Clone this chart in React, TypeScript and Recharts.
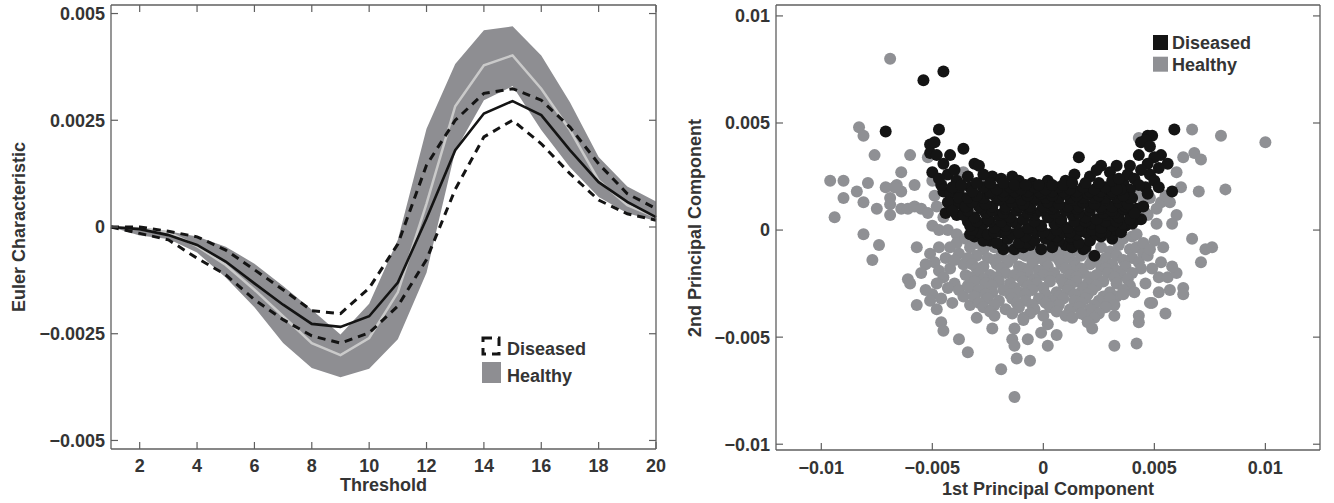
import React from 'react';
import { ComposedChart, ScatterChart, Scatter, Line, Area, XAxis, YAxis, Legend } from 'recharts';

// ---------- Left chart data ----------
const thresholds = [1, 2, 3, 4, 5, 6, 7, 8, 9, 10, 11, 12, 13, 14, 15, 16, 17, 18, 19, 20];
const healthyUpper = [0, 0, -0.0001, -0.00022, -0.00046, -0.00086, -0.00138, -0.00194, -0.00252, -0.0018, -0.0003, 0.0023, 0.00382, 0.00461, 0.0047, 0.00402, 0.00292, 0.00164, 0.00095, 0.0006];
const healthyLower = [0, -0.0002, -0.00028, -0.0006, -0.00118, -0.00188, -0.00272, -0.0033, -0.00352, -0.00332, -0.00263, -0.00107, 0.00178, 0.00297, 0.0033, 0.00227, 0.0014, 0.0007, 0.00032, 0.00014];
const healthyMean = [0, -0.00003, -0.00012, -0.00045, -0.00089, -0.00147, -0.00209, -0.00272, -0.003, -0.0026, -0.00153, 0.00055, 0.00283, 0.00379, 0.00402, 0.00324, 0.00227, 0.00109, 0.00051, 0.00023];
const diseasedMean = [0, -0.00005, -0.00019, -0.00042, -0.00081, -0.00132, -0.00182, -0.00227, -0.00234, -0.00209, -0.0013, 0.0002, 0.0018, 0.00266, 0.00295, 0.00262, 0.0018, 0.00105, 0.00059, 0.00023];
const diseasedUpper = [0, 0, -0.0001, -0.00023, -0.00054, -0.001, -0.00147, -0.00196, -0.00203, -0.00143, -0.0004, 0.00145, 0.0025, 0.00313, 0.00324, 0.00297, 0.00234, 0.00148, 0.00078, 0.00043];
const diseasedLower = [0, -0.00015, -0.0003, -0.00073, -0.00112, -0.0017, -0.00217, -0.00255, -0.00272, -0.00248, -0.00185, -0.00076, 0.00088, 0.00211, 0.0025, 0.00195, 0.00125, 0.00063, 0.00031, 0.00016];
const thresholdTicks = [2, 4, 6, 8, 10, 12, 14, 16, 18, 20];
const eulerTicks = [-0.005, -0.0025, 0, 0.0025, 0.005];

// ---------- Right chart data ----------
const pcTicks = [-0.01, -0.005, 0, 0.005, 0.01];

const healthyPoints: [number, number][] = [
  [-0.0069, 0.0080], [-0.0083, 0.0048], [-0.0081, 0.0044], [-0.0076, 0.0035], [-0.0060, 0.0035], [-0.0052, 0.0034],
  [-0.0096, 0.0023], [-0.0090, 0.0023], [-0.0084, 0.0018], [-0.0090, 0.0015], [-0.0079, 0.0022], [-0.0081, 0.0013],
  [-0.0075, 0.0010], [-0.0094, 0.0006], [-0.0081, -0.0002], [-0.0074, -0.0007], [-0.0077, -0.0014], [-0.0071, 0.0020],
  [-0.0069, 0.0015], [-0.0069, 0.0012], [-0.0064, 0.0027], [-0.0066, 0.0021], [-0.0064, 0.0018], [-0.0067, 0.0020],
  [-0.0058, 0.0021], [-0.0069, 0.0007], [-0.0064, 0.0010], [-0.0061, 0.0010], [-0.0058, 0.0011], [-0.0055, 0.0010],
  [-0.0052, 0.0008], [-0.0050, 0.0023], [-0.0057, -0.0008], [-0.0050, 0.0002], [-0.0047, 0.0000], [-0.0043, 0.0000],
  [-0.0039, -0.0002], [-0.0045, 0.0006], [-0.0048, 0.0011], [-0.0036, 0.0027], [-0.0049, 0.0016], [-0.0046, 0.0022],
  [-0.0028, 0.0022],
  [-0.0051, -0.0011], [-0.0049, -0.0015], [-0.0053, -0.0016], [-0.0047, -0.0019], [-0.0044, -0.0013], [-0.0045, -0.0022],
  [-0.0042, -0.0018], [-0.0040, -0.0025], [-0.0043, -0.0027], [-0.0038, -0.0028], [-0.0038, -0.0011], [-0.0036, -0.0016],
  [-0.0035, -0.0021], [-0.0039, -0.0006], [-0.0061, -0.0023], [-0.0060, -0.0025], [-0.0050, -0.0030], [-0.0057, -0.0035],
  [-0.0048, -0.0037], [-0.0046, -0.0043], [-0.0045, -0.0047], [-0.0038, -0.0051], [-0.0034, -0.0057], [-0.0036, -0.0031],
  [-0.0034, -0.0026], [-0.0053, -0.0028], [-0.0051, -0.0033], [-0.0035, -0.0004],
  [-0.0048, -0.0025], [-0.0046, -0.0032], [-0.0041, -0.0034], [-0.0042, -0.0008], [-0.0047, -0.0008], [-0.0055, -0.0020],
  [-0.0040, -0.0014], [-0.0033, -0.0035],
  [-0.0033, -0.0008], [-0.0027, -0.0009], [-0.0022, -0.0008], [-0.0005, -0.0010], [0.0006, -0.0009], [0.0013, -0.0010],
  [0.0026, -0.0008], [0.0034, -0.0007], [0.0039, -0.0009], [0.0036, -0.0004], [0.0040, -0.0003],
  [-0.0030, -0.0006], [-0.0015, -0.0008], [-0.0010, -0.0011], [0.0001, -0.0010], [0.0009, -0.0010], [0.0019, -0.0010],
  [0.0022, -0.0014], [0.0030, -0.0010], [0.0042, -0.0008],
  [-0.0030, -0.0012], [-0.0025, -0.0013], [-0.0019, -0.0012], [-0.0014, -0.0013], [-0.0008, -0.0012], [-0.0002, -0.0013],
  [0.0004, -0.0012], [0.0011, -0.0013], [0.0017, -0.0012], [0.0028, -0.0013], [0.0033, -0.0012], [0.0040, -0.0013],
  [0.0045, -0.0011],
  [-0.0034, -0.0013], [-0.0022, -0.0014], [-0.0016, -0.0015], [-0.0005, -0.0014], [0.0001, -0.0015], [0.0007, -0.0014],
  [0.0014, -0.0015], [0.0024, -0.0014], [0.0036, -0.0014], [0.0043, -0.0015],
  [-0.0032, -0.0016], [-0.0027, -0.0017], [-0.0021, -0.0016], [-0.0011, -0.0017], [-0.0005, -0.0016], [0.0002, -0.0017],
  [0.0008, -0.0016], [0.0014, -0.0017], [0.0021, -0.0016], [0.0026, -0.0017], [0.0031, -0.0016], [0.0037, -0.0017],
  [-0.0030, -0.0018], [-0.0019, -0.0018], [-0.0009, -0.0018], [-0.0002, -0.0019], [0.0010, -0.0018], [0.0017, -0.0018],
  [0.0028, -0.0018], [0.0033, -0.0019], [0.0044, -0.0018],
  [-0.0029, -0.0020], [-0.0024, -0.0021], [-0.0017, -0.0020], [-0.0013, -0.0021], [-0.0007, -0.0020], [0.0000, -0.0021],
  [0.0005, -0.0020], [0.0012, -0.0021], [0.0018, -0.0020], [0.0024, -0.0021], [0.0029, -0.0020], [0.0035, -0.0021],
  [0.0040, -0.0020],
  [-0.0033, -0.0022], [-0.0027, -0.0023], [-0.0021, -0.0022], [-0.0010, -0.0022], [-0.0004, -0.0023], [0.0003, -0.0022],
  [0.0008, -0.0023], [0.0015, -0.0022], [0.0021, -0.0022], [0.0032, -0.0022], [0.0038, -0.0023],
  [-0.0031, -0.0024], [-0.0026, -0.0025], [-0.0020, -0.0024], [-0.0015, -0.0025], [-0.0009, -0.0024], [-0.0003, -0.0025],
  [0.0003, -0.0024], [0.0009, -0.0025], [0.0015, -0.0024], [0.0020, -0.0025], [0.0027, -0.0024], [0.0033, -0.0025],
  [-0.0033, -0.0027], [-0.0023, -0.0026], [-0.0013, -0.0027], [-0.0007, -0.0026], [0.0000, -0.0027], [0.0012, -0.0026],
  [0.0018, -0.0027], [0.0024, -0.0026], [0.0039, -0.0026],
  [-0.0029, -0.0028], [-0.0023, -0.0029], [-0.0018, -0.0028], [-0.0011, -0.0029], [-0.0005, -0.0028], [0.0006, -0.0029],
  [0.0011, -0.0028], [0.0017, -0.0029], [0.0022, -0.0028], [0.0030, -0.0029], [0.0036, -0.0028], [0.0041, -0.0029],
  [-0.0031, -0.0031], [-0.0026, -0.0030], [-0.0015, -0.0030], [-0.0008, -0.0030], [0.0001, -0.0030], [0.0007, -0.0031],
  [0.0014, -0.0030], [0.0020, -0.0030], [0.0027, -0.0031], [0.0033, -0.0031],
  [-0.0025, -0.0032], [-0.0020, -0.0033], [-0.0014, -0.0032], [-0.0008, -0.0033], [-0.0002, -0.0032], [0.0004, -0.0033],
  [0.0009, -0.0032], [0.0014, -0.0033], [0.0019, -0.0032], [0.0025, -0.0033], [0.0030, -0.0032],
  [-0.0029, -0.0034], [-0.0022, -0.0035], [-0.0012, -0.0034], [-0.0005, -0.0035], [0.0001, -0.0034], [0.0007, -0.0035],
  [0.0017, -0.0034], [0.0023, -0.0035], [0.0032, -0.0035],
  [-0.0027, -0.0036], [-0.0017, -0.0037], [-0.0011, -0.0036], [-0.0004, -0.0037], [0.0003, -0.0036], [0.0012, -0.0037],
  [0.0016, -0.0036], [0.0021, -0.0037], [0.0028, -0.0036],
  [-0.0024, -0.0038], [-0.0014, -0.0039], [-0.0006, -0.0039], [0.0006, -0.0038], [0.0010, -0.0040], [0.0025, -0.0039],
  [-0.0022, -0.0040], [-0.0009, -0.0041], [0.0000, -0.0040], [0.0013, -0.0041], [0.0019, -0.0040], [0.0023, -0.0041],
  [-0.0030, -0.0041], [-0.0023, -0.0046], [-0.0019, -0.0065], [-0.0013, -0.0078], [-0.0012, -0.0060], [-0.0006, -0.0061],
  [-0.0014, -0.0051], [-0.0013, -0.0054], [-0.0013, -0.0046], [-0.0007, -0.0051], [-0.0009, -0.0042], [-0.0001, -0.0048],
  [0.0002, -0.0044], [0.0002, -0.0054], [0.0006, -0.0049], [0.0017, -0.0039], [0.0020, -0.0043], [0.0022, -0.0046],
  [0.0032, -0.0054], [0.0042, -0.0053], [0.0043, -0.0040], [0.0043, -0.0043], [0.0036, -0.0030], [0.0032, -0.0040],
  [0.0048, -0.0034],
  [0.0067, 0.0047], [0.0080, 0.0044], [0.0100, 0.0041], [0.0063, 0.0034], [0.0068, 0.0036], [0.0071, 0.0033],
  [0.0060, 0.0027], [0.0062, 0.0020], [0.0070, 0.0018], [0.0082, 0.0019], [0.0053, 0.0013], [0.0055, 0.0016],
  [0.0057, 0.0013], [0.0060, 0.0007], [0.0051, 0.0003], [0.0047, 0.0007], [0.0067, -0.0004], [0.0073, -0.0009],
  [0.0076, -0.0008], [0.0071, -0.0015], [0.0045, -0.0006], [0.0050, -0.0005], [0.0054, -0.0008], [0.0047, -0.0012],
  [0.0053, -0.0015], [0.0052, -0.0022], [0.0056, -0.0022], [0.0060, -0.0020], [0.0057, -0.0028], [0.0063, -0.0027],
  [0.0063, -0.0030], [0.0049, -0.0034], [0.0055, -0.0039], [0.0043, 0.0043], [0.0045, 0.0014], [0.0046, 0.0008],
  [0.0042, -0.0002], [0.0043, 0.0017], [0.0048, 0.0015],
  [0.0049, -0.0018], [0.0046, -0.0025], [0.0052, -0.0029], [0.0058, -0.0017], [0.0048, -0.0009], [0.0051, 0.0010],
  [0.0058, 0.0003],
];

const diseasedPoints: [number, number][] = [
  [-0.0054, 0.0070], [-0.0045, 0.0074], [-0.0071, 0.0046], [-0.0047, 0.0047], [0.0059, 0.0047],
  [-0.0051, 0.0040], [-0.0049, 0.0041], [-0.0051, 0.0036], [-0.0048, 0.0035], [-0.0042, 0.0035], [-0.0045, 0.0031],
  [-0.0036, 0.0038], [-0.0050, 0.0027], [-0.0043, 0.0026], [-0.0045, 0.0018], [-0.0042, 0.0017], [-0.0039, 0.0023],
  [-0.0036, 0.0015], [-0.0044, 0.0008], [-0.0039, 0.0007], [-0.0036, 0.0011], [-0.0031, 0.0031], [-0.0029, 0.0030],
  [-0.0033, 0.0020], [-0.0038, 0.0019], [-0.0040, 0.0012], [-0.0034, 0.0004], [-0.0031, -0.0003], [-0.0028, 0.0000],
  [-0.0046, 0.0021], [-0.0041, 0.0020], [-0.0037, 0.0021], [-0.0043, 0.0013], [-0.0038, 0.0015], [-0.0041, 0.0009],
  [-0.0034, 0.0025], [-0.0040, 0.0028], [-0.0047, 0.0024],
  [-0.0023, 0.0025], [-0.0014, 0.0025], [-0.0011, 0.0023], [-0.0005, 0.0022], [0.0002, 0.0023], [0.0010, 0.0023],
  [0.0016, 0.0034], [0.0014, 0.0026], [0.0021, 0.0025], [0.0026, 0.0030], [0.0033, 0.0030], [0.0039, 0.0030],
  [0.0043, 0.0035], [0.0044, 0.0041], [0.0047, 0.0044], [0.0049, 0.0044], [0.0046, 0.0042], [0.0048, 0.0039],
  [0.0053, 0.0035], [0.0050, 0.0034], [0.0056, 0.0031], [0.0047, 0.0031], [0.0052, 0.0029], [0.0048, 0.0026],
  [0.0050, 0.0023], [0.0046, 0.0020], [0.0052, 0.0020], [0.0058, 0.0018], [0.0044, 0.0005], [0.0042, 0.0010],
  [0.0040, 0.0015], [0.0036, 0.0022], [0.0030, 0.0027], [0.0024, 0.0028], [-0.0019, 0.0024], [-0.0027, 0.0026],
  [0.0038, 0.0026], [0.0041, 0.0024], [0.0044, 0.0028], [0.0043, 0.0021], [0.0039, 0.0019], [0.0047, 0.0017],
  [0.0035, 0.0017], [0.0041, 0.0006], [0.0045, 0.0011], [0.0038, 0.0009],
  [-0.0018, -0.0009], [-0.0013, -0.0009], [-0.0009, -0.0008], [-0.0001, -0.0009], [0.0004, -0.0006], [0.0010, -0.0007],
  [0.0018, -0.0009], [0.0023, -0.0012], [0.0031, -0.0004], [0.0029, 0.0000], [0.0037, 0.0002], [0.0042, 0.0005],
  [-0.0024, -0.0005], [-0.0006, -0.0007],
  [-0.0019, -0.0007], [-0.0008, -0.0006], [0.0004, -0.0008], [0.0013, -0.0008], [0.0019, -0.0008],
  [-0.0027, -0.0005], [-0.0021, -0.0006], [-0.0016, -0.0004], [-0.0011, -0.0006], [-0.0004, -0.0005], [0.0001, -0.0004],
  [0.0007, -0.0005], [0.0013, -0.0004], [0.0016, -0.0006], [0.0021, -0.0005], [0.0026, -0.0003],
  [-0.0033, -0.0002], [0.0006, -0.0003], [0.0012, -0.0003], [0.0031, -0.0002],
  [-0.0029, -0.0001], [-0.0025, -0.0002], [-0.0019, -0.0001], [-0.0014, -0.0002], [-0.0008, -0.0003], [-0.0003, -0.0001],
  [0.0003, -0.0002], [0.0009, -0.0001], [0.0015, -0.0002], [0.0019, -0.0001], [0.0024, -0.0002], [0.0028, -0.0001],
  [0.0033, 0.0000],
  [-0.0032, 0.0000], [-0.0022, -0.0001], [-0.0017, 0.0000], [-0.0011, -0.0001], [-0.0005, 0.0000], [0.0000, -0.0001],
  [0.0006, 0.0000], [0.0012, -0.0001], [0.0017, 0.0000], [0.0022, 0.0000], [0.0026, -0.0001], [0.0035, -0.0001],
  [-0.0033, 0.0002], [-0.0027, 0.0003], [-0.0022, 0.0001], [-0.0017, 0.0002], [-0.0012, 0.0003], [-0.0007, 0.0001],
  [-0.0001, 0.0002], [0.0005, 0.0003], [0.0011, 0.0001], [0.0016, 0.0002], [0.0022, 0.0003], [0.0026, 0.0001],
  [0.0031, 0.0002], [0.0036, 0.0003],
  [-0.0030, 0.0004], [-0.0024, 0.0004], [-0.0019, 0.0004], [-0.0014, 0.0004], [-0.0004, 0.0004], [0.0008, 0.0004],
  [0.0014, 0.0004], [0.0019, 0.0004], [0.0028, 0.0004], [0.0033, 0.0004], [0.0040, 0.0003],
  [-0.0031, 0.0006], [-0.0025, 0.0005], [-0.0020, 0.0007], [-0.0015, 0.0006], [-0.0009, 0.0005], [-0.0004, 0.0007],
  [0.0002, 0.0006], [0.0008, 0.0005], [0.0013, 0.0007], [0.0019, 0.0006], [0.0024, 0.0005], [0.0029, 0.0007],
  [0.0034, 0.0006], [0.0039, 0.0005],
  [-0.0036, 0.0007], [-0.0026, 0.0008], [-0.0018, 0.0008], [-0.0007, 0.0008], [0.0005, 0.0008], [0.0016, 0.0008],
  [0.0027, 0.0008], [0.0032, 0.0008], [0.0041, 0.0008],
  [-0.0034, 0.0009], [-0.0028, 0.0010], [-0.0023, 0.0009], [-0.0017, 0.0010], [-0.0012, 0.0009], [-0.0006, 0.0010],
  [-0.0001, 0.0009], [0.0004, 0.0010], [0.0010, 0.0009], [0.0015, 0.0010], [0.0021, 0.0009], [0.0026, 0.0010],
  [0.0031, 0.0009], [0.0036, 0.0010],
  [-0.0035, 0.0011], [-0.0029, 0.0011], [-0.0023, 0.0011], [-0.0017, 0.0011], [-0.0011, 0.0011], [-0.0006, 0.0011],
  [0.0000, 0.0011], [0.0005, 0.0011], [0.0011, 0.0011], [0.0016, 0.0011], [0.0021, 0.0011], [0.0026, 0.0011],
  [0.0031, 0.0011], [0.0037, 0.0011],
  [-0.0032, 0.0013], [-0.0026, 0.0012], [-0.0020, 0.0014], [-0.0014, 0.0013], [-0.0009, 0.0012], [-0.0003, 0.0014],
  [0.0002, 0.0013], [0.0007, 0.0012], [0.0013, 0.0014], [0.0018, 0.0013], [0.0023, 0.0012], [0.0028, 0.0014],
  [0.0034, 0.0013], [0.0038, 0.0012],
  [-0.0034, 0.0015], [-0.0027, 0.0015], [-0.0021, 0.0015], [-0.0015, 0.0015], [-0.0010, 0.0014], [-0.0004, 0.0015],
  [0.0001, 0.0015], [0.0007, 0.0015], [0.0012, 0.0015], [0.0018, 0.0015], [0.0023, 0.0015], [0.0028, 0.0015],
  [0.0033, 0.0015], [0.0039, 0.0015],
  [-0.0030, 0.0016], [-0.0024, 0.0017], [-0.0018, 0.0016], [-0.0012, 0.0017], [-0.0007, 0.0016], [-0.0001, 0.0017],
  [0.0004, 0.0016], [0.0010, 0.0017], [0.0015, 0.0016], [0.0020, 0.0017], [0.0025, 0.0016], [0.0031, 0.0017],
  [0.0036, 0.0016],
  [-0.0032, 0.0018], [-0.0024, 0.0018], [-0.0018, 0.0018], [-0.0013, 0.0018], [-0.0007, 0.0018], [-0.0002, 0.0018],
  [0.0004, 0.0018], [0.0009, 0.0018], [0.0015, 0.0018], [0.0021, 0.0018], [0.0026, 0.0018], [0.0031, 0.0018],
  [0.0035, 0.0019],
  [-0.0027, 0.0020], [-0.0021, 0.0019], [-0.0015, 0.0020], [-0.0010, 0.0019], [-0.0004, 0.0020], [0.0001, 0.0019],
  [0.0007, 0.0020], [0.0012, 0.0019], [0.0018, 0.0020], [0.0023, 0.0019], [0.0028, 0.0020], [0.0033, 0.0019],
  [-0.0030, 0.0022], [-0.0024, 0.0022], [-0.0018, 0.0022], [-0.0013, 0.0021], [-0.0008, 0.0021], [-0.0002, 0.0021],
  [0.0004, 0.0021], [0.0009, 0.0021], [0.0013, 0.0022], [0.0019, 0.0022], [0.0025, 0.0022], [0.0031, 0.0023],
  [0.0034, 0.0024],
];

// ---------- styling ----------
const FONT = '"Liberation Sans", Arial, Helvetica, sans-serif';
const TEXT = '#343434';
const AXIS = '#5f5f5f';
const BAND = '#8e8e92';
const GRAY_DOT = '#8f9094';
const BLACK = '#141414';
const DOT_R = 6;

const fmt = (v: number) => (v === 0 ? '0' : (v < 0 ? '\u2212' : '') + String(Math.abs(v)));
const tickStyle = { fontFamily: FONT, fontSize: 18, fontWeight: 700, fill: TEXT };
const axisLine = { stroke: AXIS, strokeWidth: 1.3 };
const tickLine = { stroke: AXIS, strokeWidth: 1.2 };
const titleStyle: React.CSSProperties = { fontFamily: FONT, fontSize: 18, fontWeight: 700, fill: TEXT };

const leftData = thresholds.map((t, i) => ({
  t,
  band: [healthyLower[i], healthyUpper[i]],
  hMean: healthyMean[i],
  dMean: diseasedMean[i],
  dUp: diseasedUpper[i],
  dLow: diseasedLower[i],
}));
const healthyData = healthyPoints.map(([x, y]) => ({ x, y }));
const diseasedData = diseasedPoints.map(([x, y]) => ({ x, y }));

const LeftLegend = () => (
  <svg width={130} height={56} style={{ overflow: 'visible' }}>
    <rect x={5} y={6} width={16} height={16} fill="none" stroke={BLACK} strokeWidth={3} strokeDasharray="9 6" />
    <text x={29} y={23} style={titleStyle}>Diseased</text>
    <rect x={4} y={30} width={19} height={21} fill={BAND} />
    <text x={29} y={49.5} style={titleStyle}>Healthy</text>
  </svg>
);

const RightLegend = () => (
  <svg width={110} height={46} style={{ overflow: 'visible' }}>
    <rect x={4} y={5} width={15} height={15} fill={BLACK} />
    <text x={23} y={19.3} style={titleStyle}>Diseased</text>
    <rect x={4} y={26.7} width={15} height={15} fill={GRAY_DOT} />
    <text x={23} y={40.7} style={titleStyle}>Healthy</text>
  </svg>
);

const LeftChart = () => (
  <ComposedChart width={667} height={503} data={leftData} margin={{ top: 4, right: 10, bottom: 0, left: 0 }}>
    <XAxis
      dataKey="t"
      type="number"
      domain={[1, 20]}
      ticks={thresholdTicks}
      height={54}
      tick={tickStyle}
      tickLine={tickLine}
      axisLine={axisLine}
      tickSize={-7}
      tickMargin={17}
      interval={0}
      label={() => (
        <text x={383.4} y={491} textAnchor="middle" style={titleStyle}>Threshold</text>
      )}
    />
    <XAxis
      xAxisId="top"
      orientation="top"
      dataKey="t"
      type="number"
      domain={[1, 20]}
      ticks={thresholdTicks}
      height={1}
      tickFormatter={() => ''}
      tickLine={tickLine}
      axisLine={axisLine}
      tickSize={-7}
      interval={0}
    />
    <YAxis
      type="number"
      domain={[-0.0052, 0.0052]}
      ticks={eulerTicks}
      width={111}
      tick={tickStyle}
      tickLine={tickLine}
      axisLine={axisLine}
      tickSize={-7}
      tickMargin={13}
      tickFormatter={fmt}
      interval={0}
      allowDataOverflow
      label={() => (
        <text x={25} y={227} transform="rotate(-90 25 227)" textAnchor="middle" style={titleStyle}>Euler Characteristic</text>
      )}
    />
    <YAxis
      yAxisId="right"
      orientation="right"
      type="number"
      domain={[-0.0052, 0.0052]}
      ticks={eulerTicks}
      width={1}
      tickFormatter={() => ''}
      tickLine={tickLine}
      axisLine={axisLine}
      tickSize={-7}
      interval={0}
      allowDataOverflow
    />
    <Area dataKey="band" type="linear" fill={BAND} fillOpacity={1} stroke="none" isAnimationActive={false} dot={false} activeDot={false} />
    <Line dataKey="hMean" type="linear" stroke="#cacaca" strokeWidth={2.5} dot={false} activeDot={false} isAnimationActive={false} />
    <Line dataKey="dUp" type="linear" stroke={BLACK} strokeWidth={3} strokeDasharray="8 6" dot={false} activeDot={false} isAnimationActive={false} />
    <Line dataKey="dLow" type="linear" stroke={BLACK} strokeWidth={3} strokeDasharray="8 6" dot={false} activeDot={false} isAnimationActive={false} />
    <Line dataKey="dMean" type="linear" stroke={BLACK} strokeWidth={2.6} dot={false} activeDot={false} isAnimationActive={false} />
    <Legend
      layout="vertical"
      align="center"
      verticalAlign="middle"
      wrapperStyle={{ position: 'absolute', left: 478, top: 332, width: 130, height: 56 }}
      content={() => <LeftLegend />}
    />
  </ComposedChart>
);

const RightChart = () => (
  <ScatterChart width={667} height={503} margin={{ top: 4, right: 13, bottom: 0, left: 0 }}>
    <XAxis
      dataKey="x"
      type="number"
      domain={[-0.01204, 0.01246]}
      ticks={pcTicks}
      height={53}
      tick={tickStyle}
      tickLine={tickLine}
      axisLine={axisLine}
      tickSize={-7}
      tickMargin={18}
      tickFormatter={fmt}
      interval={0}
      allowDataOverflow
      label={() => (
        <text x={381} y={495} textAnchor="middle" style={titleStyle}>1st Principal Component</text>
      )}
    />
    <XAxis
      xAxisId="top"
      orientation="top"
      type="number"
      domain={[-0.01204, 0.01246]}
      ticks={pcTicks}
      height={1}
      tickFormatter={() => ''}
      tickLine={tickLine}
      axisLine={axisLine}
      tickSize={-7}
      interval={0}
      allowDataOverflow
    />
    <YAxis
      dataKey="y"
      type="number"
      domain={[-0.01027, 0.01051]}
      ticks={pcTicks}
      width={109}
      tick={tickStyle}
      tickLine={tickLine}
      axisLine={axisLine}
      tickSize={-7}
      tickMargin={13}
      tickFormatter={fmt}
      interval={0}
      allowDataOverflow
      label={() => (
        <text x={34} y={228} transform="rotate(-90 34 228)" textAnchor="middle" style={titleStyle}>2nd Principal Component</text>
      )}
    />
    <YAxis
      yAxisId="right"
      orientation="right"
      type="number"
      domain={[-0.01027, 0.01051]}
      ticks={pcTicks}
      width={1}
      tickFormatter={() => ''}
      tickLine={tickLine}
      axisLine={axisLine}
      tickSize={-7}
      interval={0}
      allowDataOverflow
    />
    <Scatter
      name="Healthy"
      data={healthyData}
      isAnimationActive={false}
      shape={(p: any) => <circle cx={p.cx} cy={p.cy} r={DOT_R} fill={GRAY_DOT} />}
    />
    <Scatter
      name="Diseased"
      data={diseasedData}
      isAnimationActive={false}
      shape={(p: any) => <circle cx={p.cx} cy={p.cy} r={DOT_R} fill={BLACK} />}
    />
    <Legend
      layout="vertical"
      align="center"
      verticalAlign="middle"
      wrapperStyle={{ position: 'absolute', left: 482, top: 30, width: 110, height: 46 }}
      content={() => <RightLegend />}
    />
  </ScatterChart>
);

export default function App() {
  return (
    <div style={{ position: 'absolute', left: 0, top: 0, width: 1334, height: 503, background: '#fff', display: 'flex', overflow: 'hidden' }}>
      <div style={{ width: 667, height: 503, position: 'relative' }}>
        <LeftChart />
      </div>
      <div style={{ width: 667, height: 503, position: 'relative' }}>
        <RightChart />
      </div>
    </div>
  );
}
